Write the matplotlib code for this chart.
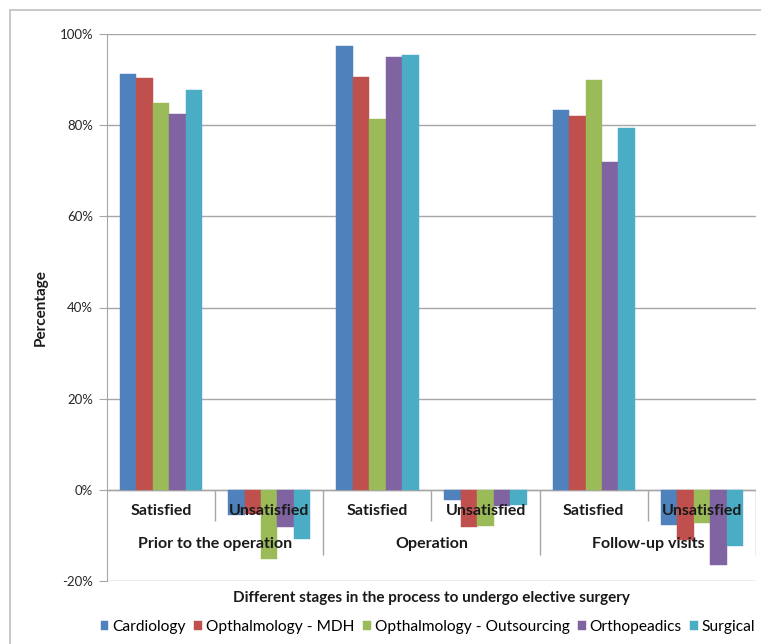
import numpy as np
import matplotlib.pyplot as plt
from matplotlib.patches import Rectangle
from matplotlib.ticker import FuncFormatter

plt.rcParams['font.family'] = ['Lato', 'DejaVu Sans']

stages = ['Prior to the operation', 'Operation', 'Follow-up visits']
answers = ['Satisfied', 'Unsatisfied']
departments = ['Cardiology', 'Opthalmology - MDH', 'Opthalmology - Outsourcing',
               'Orthopeadics', 'Surgical']
colors = ['#4F81BD', '#C0504D', '#9BBB59', '#8064A2', '#4BACC6']

# per category: prior sat, prior unsat, op sat, op unsat, follow-up sat, follow-up unsat
cardiology = [91.2, -5.5, 97.4, -2.2, 83.4, -7.8]
mdh = [90.3, -5.3, 90.6, -8.2, 82.1, -11.0]
outsourcing = [84.8, -15.2, 81.4, -7.9, 90.0, -7.3]
orthopeadics = [82.4, -8.1, 95.0, -3.5, 72.0, -16.4]
surgical = [87.7, -10.7, 95.4, -3.4, 79.4, -12.4]
series = [cardiology, mdh, outsourcing, orthopeadics, surgical]

fig = plt.figure(figsize=(7.61, 6.44), dpi=100)
# outer chart frame (right and bottom edges run off the picture)
fig.patches.append(Rectangle((10 / 761, -0.05), 1.1, 1 - 10 / 644 + 0.05,
                             transform=fig.transFigure, fill=False,
                             edgecolor='#BFBFBF', linewidth=1.2, zorder=0))

ax = fig.add_axes([107 / 761, 1 - 581 / 644, (756 - 107) / 761, (581 - 34) / 644])

grey = '#A6A6A6'
txt = '#1a1a1a'
x = np.arange(len(cardiology))
width = 0.152
for i, (vals, col) in enumerate(zip(series, colors)):
    ax.bar(x + (i - 2) * width, vals, width, color=col, label=departments[i],
           zorder=3, edgecolor=col, linewidth=0.3)

ax.set_xlim(-0.5, 5.5)
ax.set_ylim(-20, 100)
ax.set_yticks(np.arange(-20, 101, 20))
ax.yaxis.set_major_formatter(FuncFormatter(lambda v, p: f'{v:.0f}%'))
ax.tick_params(axis='y', length=6, color=grey, labelsize=9.5, pad=4, labelcolor='#262626')
ax.set_xticks([])
ax.grid(axis='y', color=grey, linewidth=1, zorder=0)
ax.axhline(0, color=grey, linewidth=1, zorder=2)
for s in ['top', 'right', 'bottom']:
    ax.spines[s].set_visible(False)
ax.spines['left'].set_color(grey)

# category separators below the zero line
ax.vlines([0.5, 2.5, 4.5], -6.8, 0, color=grey, linewidth=1, zorder=2)
ax.vlines([1.5, 3.5, 5.5], -14.4, 0, color=grey, linewidth=1, zorder=2)

for k in range(6):
    ax.text(k, -4.6, answers[k % 2], ha='center', va='center', fontsize=11.5,
            fontweight='bold', color=txt, zorder=5)
for g, st in enumerate(stages):
    ax.text(2 * g + 0.5, -11.8, st, ha='center', va='center', fontsize=11.5,
            fontweight='bold', color=txt, zorder=5)

ax.set_ylabel('Percentage', fontsize=11, fontweight='bold', color=txt)
ax.yaxis.set_label_coords((48 - 107) / 649, 0.5)
fig.text(0.567, 1 - 598 / 644, 'Different stages in the process to undergo elective surgery',
         ha='center', va='center', fontsize=11, fontweight='bold', color=txt)

leg = ax.legend(loc='center', bbox_to_anchor=(428 / 761, 1 - 627 / 644), bbox_transform=fig.transFigure,
                ncol=5, frameon=False, fontsize=11.2, handlelength=0.5, handleheight=0.5,
                handletextpad=0.25, columnspacing=0.55, borderpad=0, borderaxespad=0)

fig.savefig('out.png', dpi=100)
